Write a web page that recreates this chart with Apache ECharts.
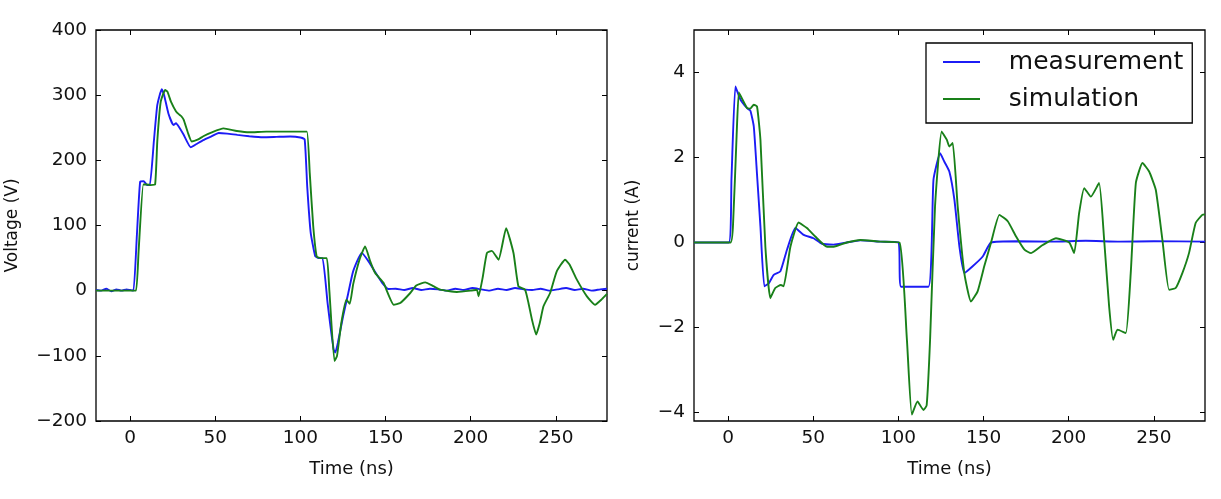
<!DOCTYPE html>
<html>
<head>
<meta charset="utf-8">
<script src="https://cdn.jsdelivr.net/npm/echarts@6/dist/echarts.min.js"></script>
<style>
  html, body { margin: 0; padding: 0; background: #fff; }
  #chart { width: 1221px; height: 499px; }
</style>
</head>
<body>
<div id="chart"></div>
<script>
// values
const timeTicks = [0, 50, 100, 150, 200, 250]
const voltageTicks = [-200, -100, 0, 100, 200, 300, 400]
const currentTicks = [-4, -2, 0, 2, 4]

const voltageMeasT = [-20, -17, -14, -11, -8, -5, -2, 0, 2, 4, 5.9, 8, 10, 11.6, 14, 16, 18.6, 20, 22.5, 25.5, 27, 29, 31.3, 35.6, 39, 43, 48, 52, 57, 63, 70, 78, 86, 94, 100, 102.5, 104, 106, 108.7, 111, 113, 116, 119.5, 120.5, 122, 125, 128, 131, 136, 140, 145, 148, 151.7, 156, 161, 166, 171, 176, 181, 186, 191, 196, 201, 206, 211, 216, 221, 226, 231, 236, 241, 246, 251, 256, 261, 266, 271, 276, 280]
const voltageMeasV = [1, 0, 3, -1, 2, 0, 2, 1, 0, 85, 167, 168, 162, 162, 230, 285, 309, 300, 272, 254, 257, 250, 240, 220, 225, 231, 237, 242, 241, 239, 237, 235.5, 236, 236.5, 235, 232, 160, 90, 53, 50, 50, -20, -90, -95, -80, -40, -5, 30, 58, 45, 24, 12, 2.5, 3, 1, 4, 1, 3, 2, 0, 3, 1, 4, 2, 0, 3, 1, 4, 2, 1, 3, 0, 2, 4, 1, 3, 0, 2, 3]

const voltageSimT = [-20, 0, 3.5, 5, 7.8, 10, 12, 14.7, 16, 18, 20.6, 22, 24, 27, 29, 30, 31.5, 34, 36.2, 40, 43, 48, 54.8, 62.7, 70, 80, 90, 100, 103.8, 105.5, 107.5, 109.6, 112, 115.5, 117, 120, 121.5, 124, 127, 129, 131, 135, 138, 141, 143.9, 148.8, 151, 154.7, 158.6, 164.5, 168, 173.3, 178, 182, 191.9, 200, 203.6, 204.6, 207, 209.5, 212.4, 216.3, 220.8, 225.1, 228, 231.9, 233.9, 236, 238.4, 240.5, 242.7, 246.6, 250.5, 255.4, 258, 262.3, 268.2, 273, 277, 280]
const voltageSimV = [0, 0, 0, 60, 163, 163, 162, 163, 230, 290, 308, 305, 290, 275, 270, 268, 262, 242, 229, 232, 237, 243, 249, 245, 243, 244, 244, 244, 244, 180, 100, 52, 50, 50, 0, -108, -100, -50, -14, -20, 10, 50, 68, 45, 27, 12, -2, -21.5, -19, -3.6, 8, 12.8, 7, 1.5, -2, 0, 1.5, -8.7, 20, 57.8, 61, 47.5, 96, 57.8, 6.6, 1.5, -19, -45, -67.4, -50, -24, -3.6, 29.6, 47.5, 40, 16.9, -8.7, -21.5, -13, -5]

const currentMeasT = [-20, 0.4, 2, 4.3, 7.3, 11.2, 13.1, 15.1, 17, 19, 21.3, 23.9, 26.8, 30.7, 34.6, 39.5, 44.4, 50.2, 55.1, 62, 69.7, 77.6, 89.3, 100, 101.6, 117.6, 120.6, 124.5, 127, 129.9, 132.9, 135.8, 138.7, 143.6, 149.5, 154.4, 170, 190, 210, 230, 250, 280]
const currentMeasA = [0, 0, 1.5, 3.67, 3.36, 3.16, 3.1, 2.73, 1.6, 0.38, -1.03, -0.96, -0.76, -0.68, -0.17, 0.34, 0.18, 0.1, -0.03, -0.05, 0, 0.05, 0.02, 0, -1.04, -1.04, 1.48, 2.1, 1.9, 1.67, 1.0, -0.09, -0.72, -0.56, -0.33, 0, 0.03, 0.02, 0.04, 0.02, 0.03, 0.02]

const currentSimT = [-20, 1.4, 3, 5, 6.3, 8, 11.2, 13, 15.1, 17, 19, 21.9, 24.8, 27.7, 31, 32.6, 36.6, 41.4, 46.3, 51.2, 58.1, 62, 69.7, 77.6, 89.3, 100.6, 105, 107.9, 111.2, 114.7, 116.6, 118.6, 121.5, 125.4, 128.4, 129.9, 131.9, 134.8, 138.7, 142.6, 146.5, 150.4, 154.4, 159.3, 164.2, 169.1, 174, 177.9, 184.7, 192.5, 200.3, 203.2, 206.1, 209.1, 213, 217.8, 220.8, 223.7, 226.1, 228.6, 233.5, 236.4, 239.4, 243.3, 247.2, 251.1, 255, 258.9, 262.8, 266.7, 270.6, 274.5, 278.4, 280]
const currentSimA = [0, 0, 0.5, 2.5, 3.53, 3.4, 3.16, 3.15, 3.24, 3.2, 2.42, -0.1, -1.31, -1.07, -1.0, -1.03, -0.1, 0.47, 0.34, 0.14, -0.1, -0.1, 0, 0.06, 0.02, 0, -2.29, -4.05, -3.74, -3.94, -3.83, -2.29, 0.85, 2.61, 2.42, 2.26, 2.34, 0.85, -0.72, -1.39, -1.15, -0.56, 0, 0.65, 0.5, 0.14, -0.17, -0.25, -0.06, 0.1, 0, -0.25, 0.69, 1.28, 1.08, 1.4, 0.06, -1.5, -2.29, -2.05, -2.13, -0.72, 1.4, 1.87, 1.67, 1.24, 0.06, -1.11, -1.07, -0.72, -0.25, 0.46, 0.65, 0.66]

const BLUE = '#1c1cf5'
const GREEN = '#198019'
const FONT = 'DejaVu Sans'

const zip = (xs, ys) => xs.map((x, i) => [x, ys[i]])
const minus = (v) => (v < 0 ? '\u2212' + Math.abs(v) : String(v))
const tick = (values) => ({ inside: true, length: 5, customValues: values, lineStyle: { color: '#000', width: 1 } })
const noLine = { show: false, onZero: false }

function mainX(gridIndex) {
  return {
    type: 'value', gridIndex, min: -20, max: 280,
    name: 'Time (ns)', nameLocation: 'middle', nameGap: 39,
    nameTextStyle: { color: '#111', fontSize: 18, fontFamily: FONT },
    axisLine: noLine,
    axisTick: tick(timeTicks),
    axisLabel: { customValues: timeTicks, color: '#111', fontSize: 18.5, fontFamily: FONT, margin: 8, formatter: minus },
    splitLine: { show: false },
  }
}

function topX(gridIndex) {
  return {
    type: 'value', gridIndex, position: 'top', min: -20, max: 280,
    axisLine: noLine,
    axisTick: tick(timeTicks),
    axisLabel: { show: false },
    splitLine: { show: false },
  }
}

function sideY(gridIndex, min, max, ticks, position, label) {
  const axis = {
    type: 'value', gridIndex, position, min, max,
    axisLine: noLine,
    axisTick: tick(ticks),
    axisLabel: { show: position === 'left', customValues: ticks, color: '#111', fontSize: 18.5, fontFamily: FONT, margin: 9, formatter: minus },
    splitLine: { show: false },
  }
  if (label) {
    axis.name = label.text
    axis.nameLocation = 'middle'
    axis.nameGap = label.gap
    axis.nameTextStyle = { color: '#111', fontSize: 17, fontFamily: FONT }
  }
  return axis
}

function line(name, color, data, xAxisIndex, yAxisIndex, z) {
  return {
    name, type: 'line', data, xAxisIndex, yAxisIndex,
    symbol: 'none', showSymbol: false, smooth: 0.15, animation: false, silent: true,
    lineStyle: { color, width: 1.9 },
    itemStyle: { color },
    z,
  }
}

const chart = echarts.init(document.getElementById('chart'), null, { renderer: 'canvas' })
chart.setOption({
  backgroundColor: '#fff',
  animation: false,
  grid: [
    { left: 96, top: 30, width: 511, height: 391, show: true, borderColor: '#000', borderWidth: 1.3, backgroundColor: 'transparent' },
    { left: 694, top: 30, width: 511, height: 391, show: true, borderColor: '#000', borderWidth: 1.3, backgroundColor: 'transparent' },
  ],
  xAxis: [mainX(0), topX(0), mainX(1), topX(1)],
  yAxis: [
    sideY(0, -200, 400, voltageTicks, 'left', { text: 'Voltage (V)', gap: 75 }),
    sideY(0, -200, 400, voltageTicks, 'right'),
    sideY(1, -4.2, 5, currentTicks, 'left', { text: 'current (A)', gap: 52 }),
    sideY(1, -4.2, 5, currentTicks, 'right'),
  ],
  legend: {
    left: 926, top: 43,
    orient: 'vertical',
    data: ['measurement', 'simulation'],
    selectedMode: false,
    backgroundColor: '#fff',
    borderColor: '#000', borderWidth: 1.3, borderRadius: 0,
    padding: [5, 9, 10, 17],
    icon: 'rect',
    itemWidth: 37, itemHeight: 2, itemGap: 9,
    formatter: (name) => '   ' + name,
    textStyle: { color: '#111', fontSize: 25, fontFamily: FONT, lineHeight: 28 },
  },
  series: [
    line('measurement', BLUE, zip(voltageMeasT, voltageMeasV), 0, 0, 2),
    line('simulation', GREEN, zip(voltageSimT, voltageSimV), 0, 0, 3),
    line('measurement', BLUE, zip(currentMeasT, currentMeasA), 2, 2, 2),
    line('simulation', GREEN, zip(currentSimT, currentSimA), 2, 2, 3),
  ],
})
</script>
</body>
</html>
